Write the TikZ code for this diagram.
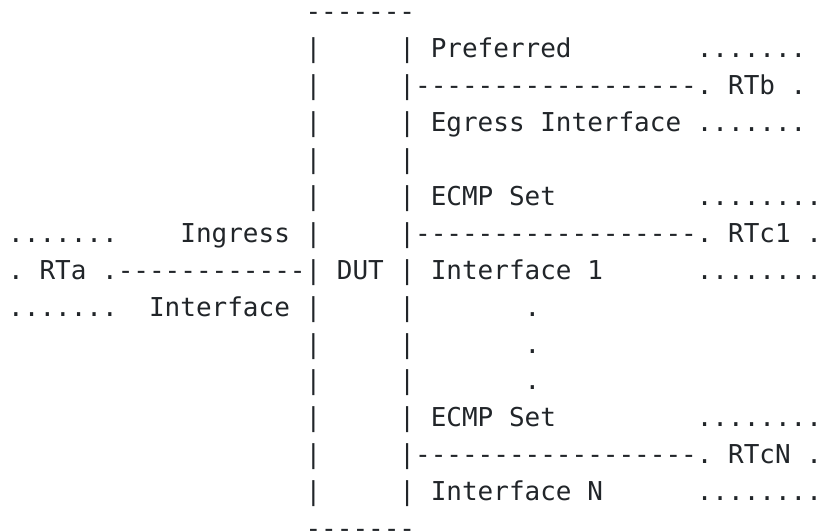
\documentclass[tikz,border=0pt]{standalone}
\usepackage{fontspec}
\setmonofont{DejaVu Sans Mono}
\usepackage{tikz}
\usetikzlibrary{positioning}
\definecolor{ink}{HTML}{212529}

\begin{document}
\begin{tikzpicture}[
    x=11.7375pt, y=-27.675pt,
    txt/.style={anchor=base west, inner sep=0pt, outer sep=0pt, text=ink, font=\ttfamily\fontsize{19.5}{23}\selectfont},
    wall/.style={txt},
    label/.style={txt}
]
\useasboundingbox (-6.15pt,15.75pt) rectangle (608.1pt,-382.5pt);

% DUT box
\node[wall] (duttop) at (19,0) {-------};
\foreach \r in {1,...,13} {
    \node[wall] (lwall\r) at (19,\r) {|};
    \node[wall] (rwall\r) at (25,\r) {|};
}
\node[wall] (dutbot) at (19,14) {-------};
\node[label] (dut) at (21,7) {DUT};

% Ingress side - RTa
\node[txt] (rtatop) at (0,6) {.......};
\node[txt] (rta) at (0,7) {. RTa .------------};
\node[txt] (rtabot) at (0,8) {.......};
\node[label] (ingress) at (11,6) {Ingress};
\node[label] (ingressif) at (9,8) {Interface};

% Preferred egress - RTb
\node[label] (pref) at (27,1) {Preferred};
\node[txt] (rtbtop) at (44,1) {.......};
\node[txt] (rtb) at (26,2) {------------------. RTb .};
\node[label] (egressif) at (27,3) {Egress Interface};
\node[txt] (rtbbot) at (44,3) {.......};

% ECMP member 1 - RTc1
\node[label] (ecmp1) at (27,5) {ECMP Set};
\node[txt] (rtc1top) at (44,5) {........};
\node[txt] (rtc1) at (26,6) {------------------. RTc1 .};
\node[label] (ecmpif1) at (27,7) {Interface 1};
\node[txt] (rtc1bot) at (44,7) {........};

% Vertical ellipsis
\foreach \r in {8,9,10} {
    \node[txt] (skip\r) at (33,\r) {.};
}

% ECMP member N - RTcN
\node[label] (ecmpn) at (27,11) {ECMP Set};
\node[txt] (rtcntop) at (44,11) {........};
\node[txt] (rtcn) at (26,12) {------------------. RTcN .};
\node[label] (ecmpifn) at (27,13) {Interface N};
\node[txt] (rtcnbot) at (44,13) {........};

\end{tikzpicture}
\end{document}
